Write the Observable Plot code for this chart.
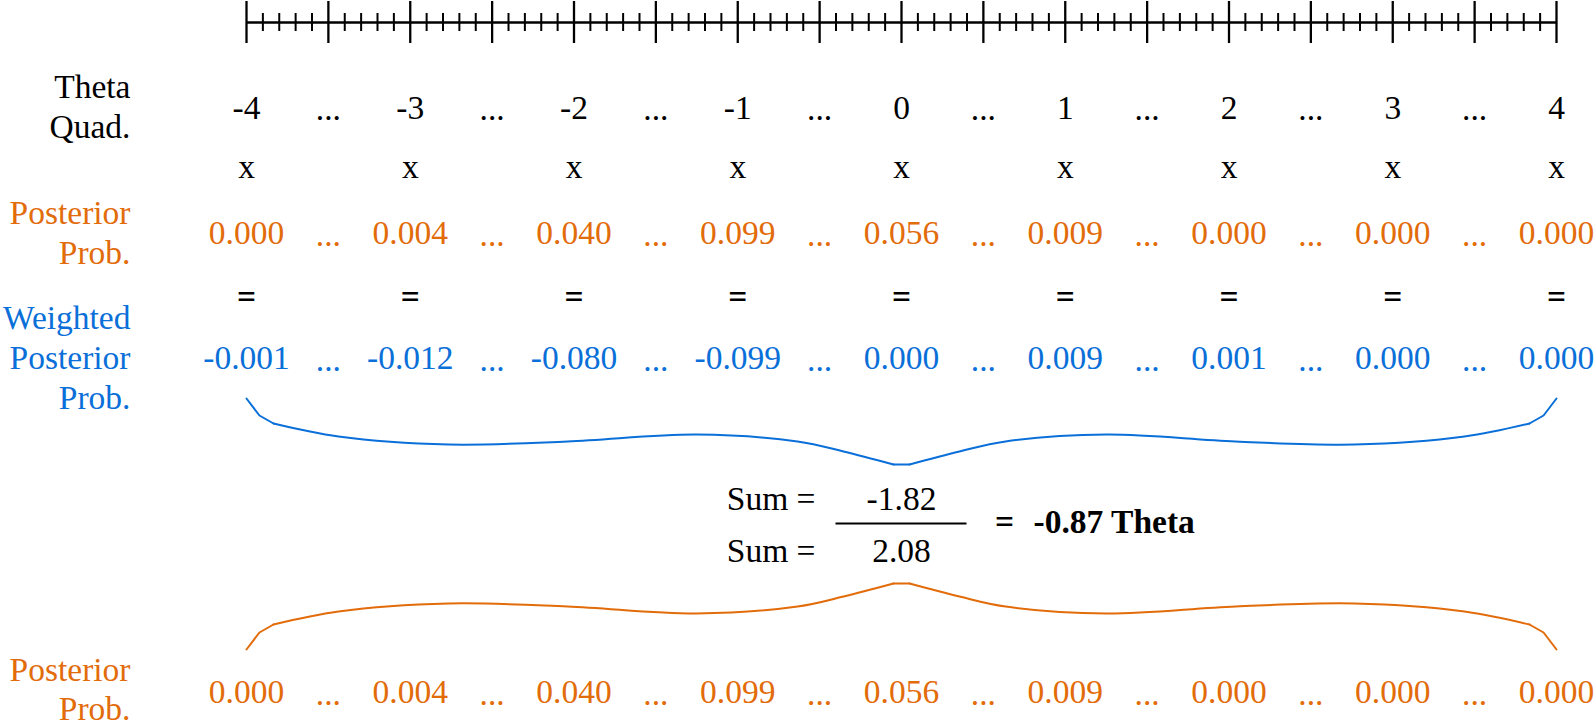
<!DOCTYPE html>
<html>
<head>
<meta charset="utf-8">
<script src="https://cdn.jsdelivr.net/npm/d3@7"></script>
<script src="https://cdn.jsdelivr.net/npm/@observablehq/plot@0.6"></script>
<style>
  html, body { margin: 0; padding: 0; background: #fff; }
  #chart svg { display: block; }
  #chart svg text { font-family: "Liberation Serif", "Times New Roman", Times, "DejaVu Serif", serif !important; }
</style>
</head>
<body>
<div id="chart"></div>
<script>
// ---------- data ----------
const thetaQuad = [-4, -3, -2, -1, 0, 1, 2, 3, 4];
const posteriorProb = [0.000, 0.004, 0.040, 0.099, 0.056, 0.009, 0.000, 0.000, 0.000];
const weightedPosteriorProb = [-0.001, -0.012, -0.080, -0.099, 0.000, 0.009, 0.001, 0.000, 0.000];
const sumWeighted = -1.82;
const sumPosterior = 2.08;
const eapTheta = -0.87;

const labelTheta = "Theta\nQuad.";
const labelPosterior = "Posterior\nProb.";
const labelWeighted = "Weighted\nPosterior\nProb.";
const ellipsisText = "...";
const timesText = "x";
const equalsText = "=";
const sumText = "Sum =";
const resultUnit = "Theta";

const rulerMin = -4, rulerMax = 4, rulerMinorStep = 0.1, minorPerMajor = 5;

// half-profile of the curly brace (theta offset from end, depth in px)
const braceDx = [0, 0.079, 0.165, 0.562, 1.234, 1.960, 2.748, 3.365, 3.646, 3.951];
const braceDepth = [0, 17, 25, 38, 46, 43, 36, 43, 53, 66];

// ---------- styles / layout ----------
const orange = "#e26b0a";
const blue = "#0a6fd8";
const font = "'Liberation Serif', 'Times New Roman', serif";
const fs = 33.5;

const rows = {
  axis: 22, majorTop: 1, majorBottom: 43, minorTop: 13, minorBottom: 31,
  theta: 118, times: 177, post: 243, eq: 307, weighted: 368,
  blueBrace: 398, sum1: 509, frac: 523, sum2: 561, result: 532,
  orangeBrace: 649, post2: 702
};

// ---------- derived ----------
const rulerTicks = d3.range(0, Math.round((rulerMax - rulerMin) / rulerMinorStep) + 1)
  .map(i => ({x: rulerMin + i * rulerMinorStep, major: i % minorPerMajor === 0}));
const dotPositions = thetaQuad.slice(0, -1).map(t => t + 0.5);
const fmt3 = v => v.toFixed(3);

function braceParts(y0, sign) {
  const pt = (x, d, z) => ({x, y: y0 + sign * d, z});
  const n = braceDx.length;
  const L = (z) => braceDx.map((dx, i) => pt(rulerMin + dx, braceDepth[i], z));
  const R = (z) => braceDx.map((dx, i) => pt(rulerMax - dx, braceDepth[i], z));
  const smooth = [...L("L").slice(2), ...R("R").slice(2)];
  const straight = [
    ...L("a").slice(0, 3),
    ...R("b").slice(0, 3),
    L("c")[n - 1], R("c")[n - 1]
  ];
  return {smooth, straight};
}
const blueBrace = braceParts(rows.blueBrace, 1);
const orangeBrace = braceParts(rows.orangeBrace, -1);

const textBase = {fontFamily: font, fontSize: fs, lineAnchor: "bottom"};

const chart = Plot.plot({
  width: 1594,
  height: 724,
  margin: 0,
  x: {domain: [rulerMin, rulerMax], range: [246, 1556], axis: null},
  y: {type: "identity", axis: null},
  style: {background: "#fff", fontFamily: font, overflow: "visible"},
  marks: [
    // ruler
    Plot.ruleY([rows.axis], {x1: rulerMin, x2: rulerMax, stroke: "#000", strokeWidth: 2.5}),
    Plot.ruleX(rulerTicks.filter(d => d.major), {x: "x", y1: rows.majorTop, y2: rows.majorBottom, stroke: "#000", strokeWidth: 2.3}),
    Plot.ruleX(rulerTicks.filter(d => !d.major), {x: "x", y1: rows.minorTop, y2: rows.minorBottom, stroke: "#000", strokeWidth: 2}),

    // row labels
    Plot.text([labelTheta], {...textBase, x: rulerMin, dx: -116, y: rows.theta + 19, text: d => d, textAnchor: "end", lineHeight: 1.19, fill: "#000"}),
    Plot.text([labelPosterior], {...textBase, x: rulerMin, dx: -116, y: rows.post + 20, text: d => d, textAnchor: "end", lineHeight: 1.19, fill: orange}),
    Plot.text([labelWeighted], {...textBase, x: rulerMin, dx: -116, y: rows.weighted + 40, text: d => d, textAnchor: "end", lineHeight: 1.19, fill: blue}),
    Plot.text([labelPosterior], {...textBase, x: rulerMin, dx: -116, y: rows.post2 + 17, text: d => d, textAnchor: "end", lineHeight: 1.14, fill: orange}),

    // theta row
    Plot.text(thetaQuad, {...textBase, x: d => d, y: rows.theta, text: d => String(d), fill: "#000"}),
    Plot.text(dotPositions, {...textBase, x: d => d, y: rows.theta + 1, text: () => ellipsisText, fill: "#000"}),
    // times row
    Plot.text(thetaQuad, {...textBase, x: d => d, y: rows.times, text: () => timesText, fill: "#000"}),
    // posterior row
    Plot.text(thetaQuad, {...textBase, x: d => d, y: rows.post, text: (d, i) => fmt3(posteriorProb[i]), fill: orange}),
    Plot.text(dotPositions, {...textBase, x: d => d, y: rows.post + 2, text: () => ellipsisText, fill: orange}),
    // equals row
    Plot.text(thetaQuad, {...textBase, x: d => d, y: rows.eq, text: () => equalsText, fontWeight: "bold", fill: "#000"}),
    // weighted row
    Plot.text(thetaQuad, {...textBase, x: d => d, y: rows.weighted, text: (d, i) => fmt3(weightedPosteriorProb[i]), fill: blue}),
    Plot.text(dotPositions, {...textBase, x: d => d, y: rows.weighted + 2, text: () => ellipsisText, fill: blue}),

    // braces
    Plot.line(blueBrace.smooth, {x: "x", y: "y", z: "z", curve: "catmull-rom", stroke: blue, strokeWidth: 2}),
    Plot.line(blueBrace.straight, {x: "x", y: "y", z: "z", curve: "linear", stroke: blue, strokeWidth: 2}),
    Plot.line(orangeBrace.smooth, {x: "x", y: "y", z: "z", curve: "catmull-rom", stroke: orange, strokeWidth: 2}),
    Plot.line(orangeBrace.straight, {x: "x", y: "y", z: "z", curve: "linear", stroke: orange, strokeWidth: 2}),

    // sum / fraction
    Plot.text([sumText], {...textBase, x: 0, dx: -86, y: rows.sum1, text: d => d, textAnchor: "end", fill: "#000"}),
    Plot.text([sumText], {...textBase, x: 0, dx: -86, y: rows.sum2, text: d => d, textAnchor: "end", fill: "#000"}),
    Plot.text([sumWeighted], {...textBase, x: 0, y: rows.sum1, text: d => d.toFixed(2), fill: "#000"}),
    Plot.text([sumPosterior], {...textBase, x: 0, y: rows.sum2, text: d => d.toFixed(2), fill: "#000"}),
    Plot.ruleY([rows.frac], {x1: -0.4, x2: 0.4, stroke: "#000", strokeWidth: 2}),
    Plot.text([equalsText], {...textBase, x: 0, dx: 103, y: rows.result, text: d => d, fontWeight: "bold", fill: "#000"}),
    Plot.text([eapTheta], {...textBase, x: 0, dx: 132, y: rows.result, text: d => `${d.toFixed(2)} ${resultUnit}`, textAnchor: "start", fontWeight: "bold", fill: "#000"}),

    // bottom posterior row
    Plot.text(thetaQuad, {...textBase, x: d => d, y: rows.post2, text: (d, i) => fmt3(posteriorProb[i]), fill: orange}),
    Plot.text(dotPositions, {...textBase, x: d => d, y: rows.post2 + 2, text: () => ellipsisText, fill: orange})
  ]
});

document.getElementById("chart").appendChild(chart);
</script>
</body>
</html>
